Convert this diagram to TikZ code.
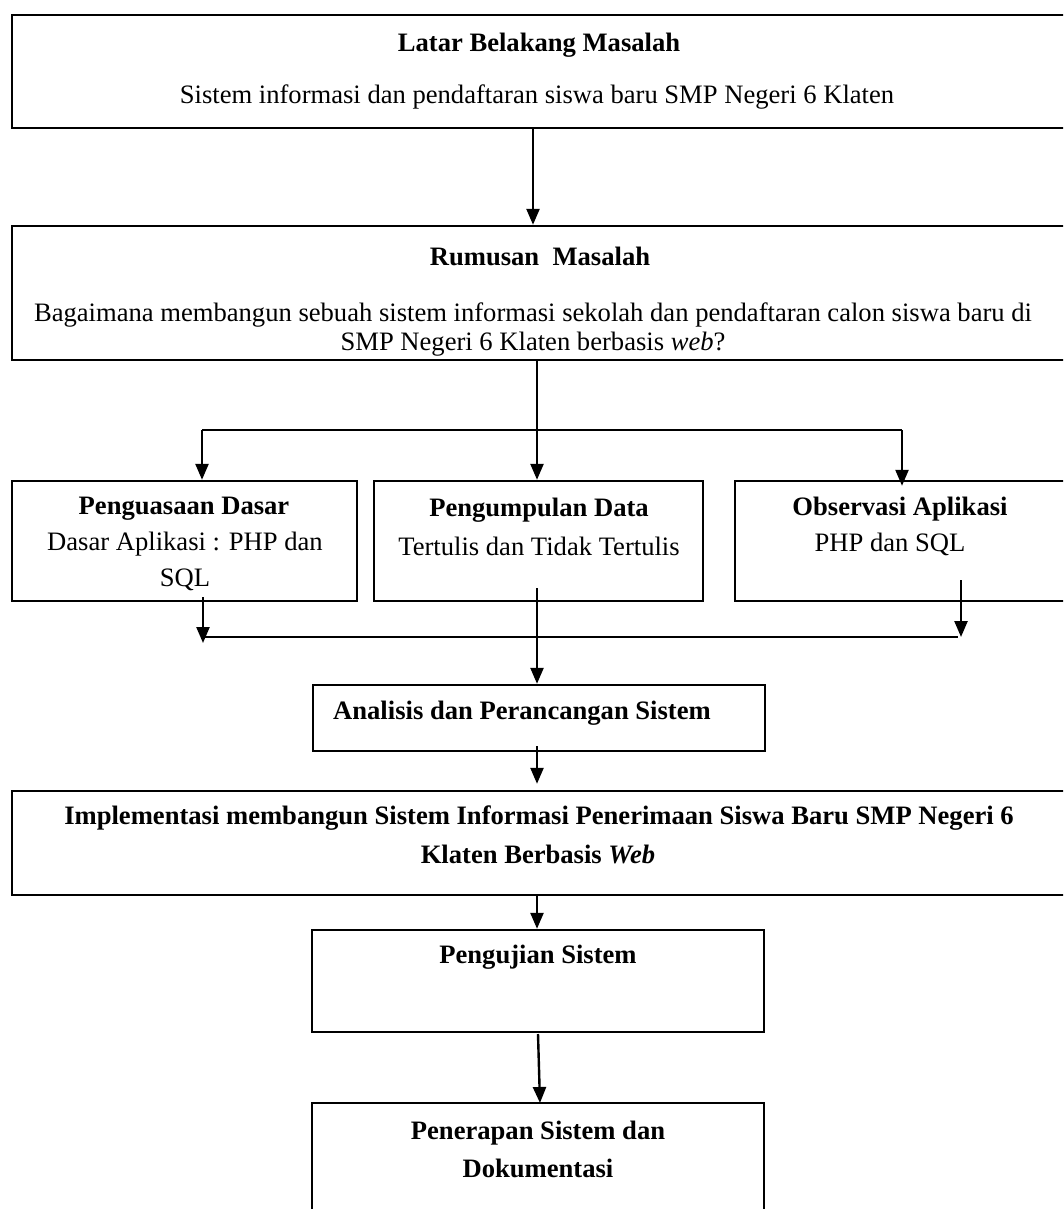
\documentclass[tikz,border=0pt]{standalone}
\usepackage{fontspec}
\setmainfont{Liberation Serif}
\usetikzlibrary{arrows.meta}
\begin{document}
\begin{tikzpicture}[x=1pt,y=-1pt,
  box/.style={draw, line width=2.4pt, inner sep=0pt},
  conn/.style={line width=2.4pt},
  arr/.style={conn, -{Triangle[length=16pt,width=13pt]}},
  txt/.style={inner sep=0pt, font=\fontsize{26.6}{32}\selectfont},
  ttl/.style={inner sep=0pt, font=\fontsize{26.6}{32}\selectfont\bfseries}]
\useasboundingbox (0,0) rectangle (1063,1209);
\clip (0,0) rectangle (1063,1209);
\fill[white] (0,0) rectangle (1063,1209);

% boxes
\node[box, minimum width=1068pt, minimum height=113pt] (b1) at (546,71.5) {};
\node[box, minimum width=1068pt, minimum height=134pt] (b2) at (546,293) {};
\node[box, minimum width=345pt, minimum height=120pt] (b3) at (184.5,541) {};
\node[box, minimum width=329pt, minimum height=120pt] (b4) at (538.5,541) {};
\node[box, minimum width=345pt, minimum height=120pt] (b5) at (907.5,541) {};
\node[box, minimum width=452pt, minimum height=66pt] (b6) at (539,718) {};
\node[box, minimum width=1068pt, minimum height=104pt] (b7) at (546,843) {};
\node[box, minimum width=452pt, minimum height=102pt] (b8) at (538,981) {};
\node[box, minimum width=452pt, minimum height=127pt] (b9) at (538,1166.5) {};

% texts
\node[ttl] (t1a) at (539,45) {Latar Belakang Masalah};
\node[txt] (t1b) at (537,97) {Sistem informasi dan pendaftaran siswa baru SMP Negeri 6 Klaten};
\node[ttl] (t2a) at (540,256) {Rumusan\ \ Masalah};
\node[txt] (t2b) at (533,315) {Bagaimana membangun sebuah sistem informasi sekolah dan pendaftaran calon siswa baru di};
\node[txt] (t2c) at (533,344) {SMP Negeri 6 Klaten berbasis \textit{web}?};
\node[ttl] (t3a) at (184,509) {Penguasaan Dasar};
\node[txt] (t3b) at (185,544) {Dasar Aplikasi : PHP dan};
\node[txt] (t3c) at (185,580) {SQL};
\node[ttl] (t4a) at (539,510) {Pengumpulan Data};
\node[txt] (t4b) at (539,546) {Tertulis dan Tidak Tertulis};
\node[ttl] (t5a) at (900,509) {Observasi Aplikasi};
\node[txt] (t5b) at (890,544) {PHP dan SQL};
\node[ttl] (t6) at (522,713) {Analisis dan Perancangan Sistem};
\node[ttl] (t7a) at (539,818) {Implementasi membangun Sistem Informasi Penerimaan Siswa Baru SMP Negeri 6};
\node[ttl] (t7b) at (538,854) {Klaten Berbasis \textit{Web}};
\node[ttl] (t8) at (538,957) {Pengujian Sistem};
\node[ttl] (t9a) at (538,1133) {Penerapan Sistem dan};
\node[ttl] (t9b) at (538,1168) {Dokumentasi};

% helper coordinates
\coordinate (xa) at (533,0);
\coordinate (xm) at (537,0);
\coordinate (xl) at (202,0);
\coordinate (xr) at (902,0);
\coordinate (jl) at (202,430);
\coordinate (jr) at (902,430);
\coordinate (s4) at (537,588);
\coordinate (s3) at (203,597);
\coordinate (s5) at (961,580);
\coordinate (kl) at (203,637);
\coordinate (kr) at (958,637);
\coordinate (s6) at (537,746);
\coordinate (s8) at (538,1034);
\coordinate (e9) at (540,1103);

% connectors
\draw[arr] (b1.south -| xa) -- (b2.north -| xa);
\draw[arr] (b2.south -| xm) -- (b4.north -| xm);
\draw[conn] (jl) -- (jr);
\draw[arr] (jl) -- (b3.north -| xl);
\draw[arr, shorten >=-6pt] (jr) -- (b5.north -| xr);
\draw[arr] (s3) -- ([yshift=-6pt]kl);
\draw[arr] (s5) -- (s5 |- kr);
\draw[conn] (kl) -- (kr);
\draw[arr] (s4) -- (b6.north -| xm);
\draw[arr, shorten >=6pt] (s6) -- (b7.north -| xm);
\draw[arr] (b7.south -| xm) -- (b8.north -| xm);
\draw[arr] (s8) -- (e9);
\end{tikzpicture}
\end{document}
